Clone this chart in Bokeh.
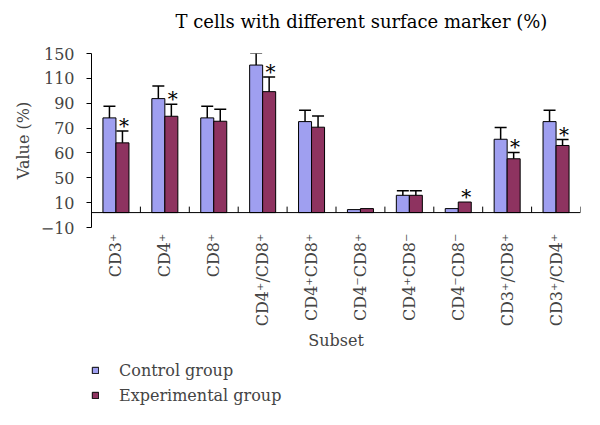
import math
from bokeh.plotting import figure
from bokeh.layouts import column
from bokeh.models import Range1d, FixedTicker, Span, Legend, LegendItem, Label
from bokeh.embed import file_html
from bokeh.resources import INLINE
from bokeh.core.properties import value

# ---- data ----
subsets = ["CD3⁺", "CD4⁺", "CD8⁺", "CD4⁺/CD8⁺", "CD4⁺CD8⁺",
           "CD4⁻CD8⁺", "CD4⁺CD8⁻", "CD4⁻CD8⁻", "CD3⁺/CD8⁺", "CD3⁺/CD4⁺"]
control = [76.2, 91.7, 76.2, 118.7, 73.2, 2.4, 13.9, 3.2, 59.0, 73.2]
control_err = [9.3, 10.2, 9.3, 9.6, 9.1, 0.0, 3.7, 0.0, 9.4, 9.1]
experimental = [56.1, 77.5, 73.5, 97.3, 68.7, 3.2, 13.9, 8.5, 43.3, 54.0]
experimental_err = [9.6, 9.6, 9.6, 11.8, 9.1, 0.0, 3.7, 0.0, 5.1, 4.8]
significant = [True, True, False, True, False, False, False, True, True, True]
y_tick_values = [-12, 8, 28, 48, 68, 88, 108, 128]
y_tick_labels = ["−10", "10", "50", "60", "70", "90", "110", "150"]
series_names = ["Control group", "Experimental group"]
title_text = "T cells with different surface marker (%)"

FONT = "DejaVu Serif"
FS = "16px"
C_CTRL = "#9f9ff0"
C_EXP = "#8e3360"
W = 584

n = len(subsets)
centers = [i + 0.5 for i in range(n)]
bw = 0.266
cap = 0.245
NAN = float("nan")


def bare(height):
    f = figure(width=W, height=height, x_range=Range1d(0, 1), y_range=Range1d(0, 1),
               x_axis_type=None, y_axis_type=None, output_backend="svg",
               toolbar_location=None, min_border=0)
    f.outline_line_color = None
    f.xgrid.grid_line_color = None
    f.ygrid.grid_line_color = None
    return f


# ---- title strip (its frame is aligned with the chart frame by the column) ----
pt = bare(40)
pt.add_layout(Label(x=84, y=19, x_units="screen", y_units="screen", text=title_text,
                    text_font=FONT, text_font_size="18px", text_baseline="alphabetic",
                    text_align="left", text_color="black"))

# ---- main chart ----
p = figure(frame_width=489, frame_height=174, x_range=Range1d(0, n), y_range=Range1d(-12, 128),
           output_backend="svg", toolbar_location=None,
           min_border_left=91, min_border_right=4, min_border_top=13, min_border_bottom=130)
p.outline_line_color = None
p.xgrid.grid_line_color = None
p.ygrid.grid_line_color = None

ya = p.yaxis[0]
ya.ticker = FixedTicker(ticks=y_tick_values)
ya.major_label_overrides = {v: l for v, l in zip(y_tick_values, y_tick_labels)}
ya.major_tick_out = 5
ya.major_tick_in = 0
ya.minor_tick_line_color = None
ya.major_label_standoff = 12
ya.major_label_text_font = FONT
ya.major_label_text_font_size = FS
ya.axis_label = "Value (%)"
ya.axis_label_text_font = FONT
ya.axis_label_text_font_size = FS
ya.axis_label_text_font_style = "normal"
ya.axis_label_standoff = 5
ya.axis_line_color = "black"
ya.major_tick_line_color = "black"

xa = p.xaxis[0]
xa.ticker = FixedTicker(ticks=centers)
xa.major_label_overrides = {c: s for c, s in zip(centers, subsets)}
xa.major_label_orientation = math.pi / 2
xa.major_tick_line_color = None
xa.minor_tick_line_color = None
xa.axis_line_color = None
xa.major_label_standoff = 0
xa.major_label_text_font = FONT
xa.major_label_text_font_size = FS
xa.axis_label = "Subset"
xa.axis_label_text_font = FONT
xa.axis_label_text_font_size = FS
xa.axis_label_text_font_style = "normal"
xa.axis_label_standoff = 2

# baseline and category boundary ticks
p.add_layout(Span(location=0, dimension="width", line_color="black", line_width=1))
bounds = [i + 1 for i in range(n)]
p.segment(x0=bounds, y0=[0] * n, x1=bounds, y1=[4.8] * n, line_color="black", line_width=1)

# bars
xc = [c - bw / 2 for c in centers]
xe = [c + bw / 2 for c in centers]
p.vbar(x=xc, top=control, bottom=0, width=bw, fill_color=C_CTRL, line_color="black", line_width=1)
p.vbar(x=xe, top=experimental, bottom=0, width=bw, fill_color=C_EXP, line_color="black", line_width=1)

# error bars
for xs, vals, errs in ((xc, control, control_err), (xe, experimental, experimental_err)):
    ex = [x for x, e in zip(xs, errs) if e > 0]
    lo = [v for v, e in zip(vals, errs) if e > 0]
    hi = [v + e for v, e in zip(vals, errs) if e > 0]
    p.segment(x0=ex, y0=lo, x1=ex, y1=hi, line_color="black", line_width=1.5)
    p.segment(x0=[x - cap / 2 for x in ex], y0=hi, x1=[x + cap / 2 for x in ex], y1=hi,
              line_color="black", line_width=1.5)

# significance asterisks
sx = [x + 0.03 for x, s in zip(xe, significant) if s]
sy = [v + e for v, e, s in zip(experimental, experimental_err, significant) if s]
p.text(x=sx, y=sy, text=["*"] * len(sx), text_font=value(FONT), text_font_size="20px",
       text_align="center", text_baseline="middle", y_offset=-5, text_color="black")

# ---- legend strip: proxy swatches with no drawable position ----
pl = bare(55)
k1 = pl.vbar(x=[NAN], top=[NAN], bottom=[NAN], width=0.1, fill_color=C_CTRL, line_color="black", line_width=1)
k2 = pl.vbar(x=[NAN], top=[NAN], bottom=[NAN], width=0.1, fill_color=C_EXP, line_color="black", line_width=1)
legend = Legend(items=[LegendItem(label=series_names[0], renderers=[k1]),
                       LegendItem(label=series_names[1], renderers=[k2])],
                location=(0, 6), orientation="vertical")
legend.glyph_width = 8
legend.glyph_height = 8
legend.label_standoff = 20
legend.label_height = 22
legend.label_text_font = FONT
legend.label_text_font_size = FS
legend.border_line_color = None
legend.background_fill_alpha = 0
legend.padding = 2
legend.margin = 0
legend.spacing = 3
pl.add_layout(legend, "center")

layout = column(pt, p, pl, spacing=0)
open("out.html", "w").write(file_html(layout, INLINE))
